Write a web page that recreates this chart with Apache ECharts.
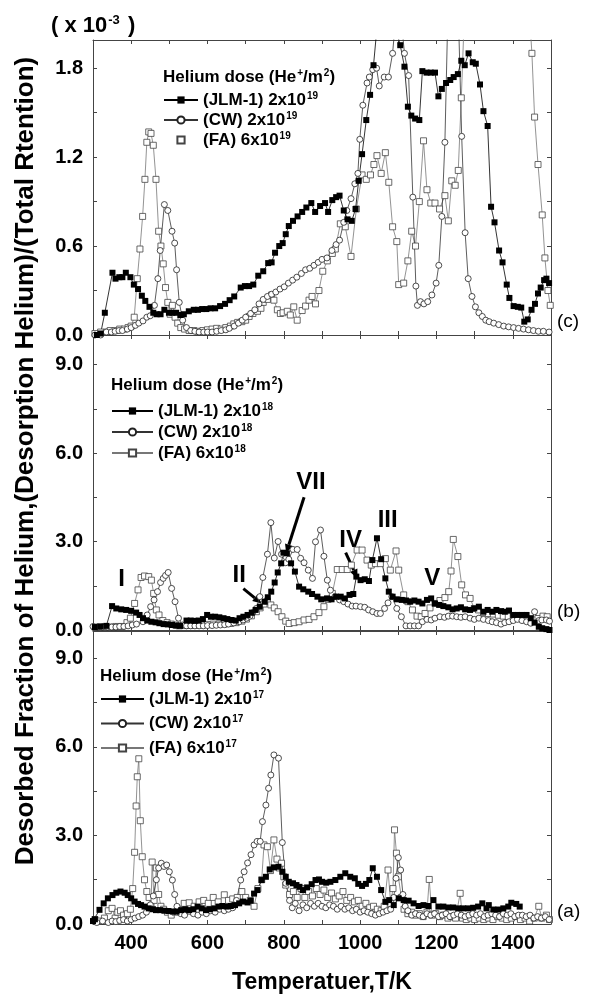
<!DOCTYPE html>
<html>
<head>
<meta charset="utf-8">
<script src="https://cdn.jsdelivr.net/npm/echarts@6/dist/echarts.min.js"></script>
<style>
  html, body { margin: 0; padding: 0; background: #fff; }
  #main { width: 592px; height: 996px; }
</style>
</head>
<body>
<div id="main"></div>
<script>
// desorbed fraction vs temperature, panel (c) in units of 1e-3
var jlmC = [[310,0.0],[320,0.01],[331,0.15],[351,0.42],[359,0.38],[369,0.39],[377,0.39],[386,0.42],[398,0.39],[407,0.34],[418,0.31],[428,0.265],[437,0.23],[448,0.19],[458,0.15],[467,0.14],[477,0.14],[487,0.17],[499,0.15],[508,0.15],[518,0.15],[529,0.135],[538,0.14],[551,0.16],[564,0.17],[575,0.17],[586,0.175],[597,0.175],[608,0.18],[620,0.18],[633,0.195],[646,0.21],[658,0.235],[670,0.26],[687,0.32],[698,0.33],[709,0.33],[720,0.34],[733,0.40],[746,0.43],[759,0.485],[768,0.49],[777,0.555],[788,0.60],[797,0.62],[805,0.68],[813,0.735],[824,0.77],[836,0.80],[848,0.83],[859,0.86],[872,0.89],[882,0.83],[895,0.87],[908,0.89],[916,0.83],[927,0.91],[937,0.93],[946,0.94],[957,0.84],[967,0.78],[978,0.77],[988,0.85],[996,1.04],[1005,1.22],[1016,1.45],[1026,1.62],[1035,1.82],[1045,2.1],[1060,2.3],[1075,2.3],[1090,2.1],[1105,1.955],[1116,1.81],[1125,1.54],[1134,1.48],[1144,1.46],[1155,1.45],[1163,1.78],[1174,1.77],[1185,1.77],[1196,1.77],[1205,1.61],[1214,1.66],[1225,1.70],[1236,1.72],[1245,1.74],[1256,1.76],[1265,1.85],[1274,1.82],[1284,1.90],[1295,1.84],[1303,1.83],[1314,1.69],[1323,1.51],[1334,1.41],[1343,0.865],[1352,0.76],[1364,0.57],[1373,0.49],[1384,0.34],[1391,0.25],[1402,0.195],[1413,0.19],[1422,0.185],[1430,0.09],[1439,0.105],[1449,0.17],[1458,0.21],[1466,0.28],[1473,0.32],[1482,0.37],[1488,0.38],[1495,0.35]];
var cwC = [[305,0.0],[320,0.0],[335,0.02],[348,0.02],[358,0.025],[368,0.03],[377,0.03],[390,0.04],[400,0.05],[411,0.065],[420,0.08],[431,0.095],[441,0.12],[450,0.13],[461,0.20],[470,0.38],[476,0.57],[487,0.88],[496,0.84],[507,0.70],[514,0.62],[519,0.44],[526,0.22],[535,0.10],[545,0.05],[556,0.03],[567,0.025],[578,0.02],[590,0.02],[600,0.02],[612,0.02],[624,0.025],[636,0.03],[648,0.035],[657,0.045],[670,0.06],[681,0.08],[691,0.10],[700,0.12],[713,0.145],[724,0.17],[735,0.21],[746,0.24],[757,0.26],[768,0.275],[779,0.29],[790,0.31],[801,0.325],[812,0.35],[823,0.37],[834,0.39],[846,0.415],[857,0.44],[868,0.45],[879,0.47],[890,0.49],[900,0.51],[913,0.52],[926,0.57],[937,0.61],[946,0.64],[957,0.76],[965,0.84],[976,0.92],[986,1.02],[994,1.09],[999,1.32],[1007,1.55],[1018,1.70],[1024,1.74],[1033,1.79],[1043,1.80],[1050,1.68],[1063,1.74],[1074,1.74],[1085,1.9],[1095,2.2],[1105,2.2],[1116,1.9],[1127,1.75],[1138,0.93],[1146,0.33],[1150,0.2],[1158,0.225],[1167,0.21],[1177,0.225],[1188,0.27],[1199,0.35],[1206,0.47],[1214,0.8],[1222,1.3],[1230,2.2],[1245,2.3],[1258,2.1],[1266,1.34],[1275,0.69],[1283,0.38],[1293,0.26],[1302,0.19],[1311,0.15],[1320,0.125],[1329,0.10],[1338,0.09],[1350,0.08],[1363,0.07],[1376,0.06],[1389,0.055],[1402,0.05],[1415,0.045],[1428,0.04],[1441,0.035],[1454,0.03],[1467,0.025],[1480,0.025],[1495,0.02]];
var faC = [[305,0.01],[320,0.02],[335,0.02],[345,0.03],[358,0.03],[370,0.04],[382,0.04],[392,0.05],[400,0.06],[408,0.12],[416,0.38],[423,0.58],[430,0.80],[436,1.05],[441,1.30],[446,1.37],[452,1.36],[458,1.28],[465,1.05],[472,0.70],[478,0.60],[484,0.48],[490,0.32],[496,0.22],[502,0.14],[508,0.20],[515,0.12],[522,0.08],[530,0.05],[540,0.04],[552,0.03],[564,0.03],[576,0.025],[588,0.03],[600,0.035],[612,0.04],[624,0.045],[636,0.04],[648,0.05],[660,0.06],[669,0.075],[679,0.085],[690,0.09],[700,0.10],[709,0.125],[719,0.145],[731,0.16],[740,0.18],[746,0.22],[757,0.24],[768,0.27],[774,0.235],[783,0.17],[791,0.145],[798,0.15],[809,0.16],[817,0.135],[826,0.19],[835,0.10],[848,0.165],[857,0.195],[866,0.235],[874,0.26],[883,0.21],[892,0.30],[902,0.43],[914,0.50],[927,0.55],[935,0.58],[948,0.75],[961,0.73],[976,0.53],[990,0.85],[1005,1.08],[1016,1.05],[1027,1.08],[1036,1.15],[1044,1.21],[1055,1.09],[1066,1.23],[1075,1.03],[1085,0.73],[1096,0.63],[1101,0.34],[1114,0.35],[1125,0.5],[1135,0.7],[1145,0.6],[1155,0.9],[1166,1.31],[1175,0.98],[1185,0.89],[1196,0.89],[1208,0.85],[1222,0.94],[1231,0.77],[1240,1.04],[1249,1.01],[1257,1.11],[1265,1.6],[1275,2.3],[1300,2.5],[1350,2.5],[1400,2.5],[1440,2.3],[1450,1.9],[1457,1.47],[1466,1.15],[1477,0.81],[1484,0.52],[1492,0.3],[1498,0.2]];

// panel (b)
var jlmB = [[305,0.1],[320,0.12],[335,0.14],[350,0.81],[361,0.73],[374,0.70],[387,0.68],[400,0.65],[413,0.59],[422,0.51],[431,0.40],[442,0.32],[453,0.28],[464,0.26],[474,0.23],[485,0.20],[496,0.19],[507,0.17],[518,0.15],[528,0.14],[545,0.32],[556,0.32],[566,0.31],[577,0.32],[588,0.37],[599,0.51],[609,0.45],[620,0.45],[631,0.43],[642,0.40],[652,0.37],[663,0.34],[674,0.32],[684,0.40],[694,0.45],[705,0.51],[716,0.59],[726,0.68],[737,0.79],[750,0.96],[758,1.11],[767,1.30],[776,1.61],[784,1.95],[793,2.26],[799,2.62],[808,2.60],[819,2.26],[829,1.98],[840,1.47],[851,1.38],[864,1.30],[874,1.22],[888,1.13],[898,1.04],[913,1.07],[925,1.04],[937,1.13],[949,1.13],[960,1.07],[972,1.19],[982,1.22],[990,1.81],[1001,1.69],[1012,1.72],[1023,1.66],[1032,2.37],[1044,3.11],[1055,2.40],[1066,1.75],[1075,1.30],[1085,1.13],[1096,1.04],[1109,1.02],[1120,1.0],[1131,0.96],[1142,1.0],[1153,0.96],[1163,0.90],[1175,1.02],[1186,1.07],[1196,0.90],[1207,0.85],[1218,0.81],[1231,0.77],[1242,0.70],[1253,0.73],[1264,0.77],[1275,0.70],[1288,0.68],[1299,0.73],[1311,0.79],[1323,0.62],[1334,0.68],[1346,0.62],[1357,0.68],[1369,0.64],[1379,0.62],[1390,0.66],[1401,0.51],[1412,0.51],[1424,0.51],[1436,0.51],[1447,0.40],[1457,0.25],[1468,0.11],[1477,0.06],[1488,0.03],[1496,0.0]];
var cwB = [[300,0.12],[312,0.1],[325,0.1],[338,0.1],[349,0.1],[360,0.1],[370,0.12],[381,0.12],[392,0.14],[403,0.17],[414,0.20],[431,0.28],[442,0.51],[451,0.79],[460,1.02],[469,1.30],[477,1.61],[484,1.75],[490,1.85],[497,1.95],[506,1.41],[515,0.96],[524,0.40],[534,0.17],[545,0.14],[556,0.14],[567,0.14],[578,0.14],[589,0.14],[600,0.15],[612,0.15],[623,0.16],[634,0.17],[645,0.18],[655,0.20],[669,0.24],[683,0.28],[693,0.34],[702,0.40],[711,0.47],[719,0.59],[728,0.73],[737,1.13],[745,1.78],[757,2.57],[766,3.64],[775,2.44],[785,3.0],[794,2.57],[805,2.28],[813,2.40],[824,2.73],[835,2.73],[844,2.43],[853,2.28],[864,2.03],[875,1.75],[883,2.99],[896,3.39],[905,2.5],[914,1.69],[922,1.35],[934,1.13],[946,1.02],[957,0.96],[968,0.88],[979,0.81],[989,0.81],[1001,0.79],[1012,0.77],[1022,0.68],[1033,0.62],[1044,0.56],[1053,0.56],[1064,0.73],[1073,0.92],[1083,1.13],[1096,0.73],[1108,0.45],[1120,0.14],[1131,0.14],[1142,0.14],[1153,0.14],[1163,0.28],[1175,0.36],[1186,0.34],[1196,0.40],[1209,0.45],[1221,0.43],[1231,0.47],[1242,0.47],[1253,0.45],[1264,0.43],[1275,0.45],[1288,0.40],[1299,0.36],[1311,0.40],[1323,0.36],[1336,0.32],[1346,0.28],[1357,0.25],[1369,0.20],[1379,0.25],[1390,0.28],[1401,0.32],[1412,0.36],[1424,0.32],[1436,0.28],[1447,0.23],[1457,0.62],[1468,0.32],[1476,0.34],[1488,0.34],[1496,0.3]];
var faB = [[305,0.1],[318,0.1],[330,0.1],[345,0.1],[360,0.12],[375,0.12],[389,0.25],[398,0.40],[409,0.90],[418,1.36],[426,1.78],[435,1.83],[446,1.81],[453,1.69],[459,1.24],[466,0.68],[473,0.51],[483,0.32],[494,0.25],[505,0.20],[516,0.17],[526,0.14],[540,0.15],[555,0.16],[570,0.17],[585,0.18],[600,0.19],[615,0.2],[630,0.2],[645,0.21],[660,0.22],[675,0.25],[690,0.30],[702,0.37],[715,0.48],[728,0.62],[738,0.75],[748,0.88],[757,0.98],[766,0.85],[775,0.75],[785,0.62],[795,0.45],[805,0.30],[814,0.22],[827,0.25],[840,0.28],[853,0.34],[866,0.36],[879,0.45],[892,0.59],[905,0.79],[916,1.04],[927,1.24],[940,2.05],[953,2.05],[966,2.05],[977,2.2],[992,2.71],[1005,2.71],[1018,2.37],[1029,2.2],[1040,2.25],[1053,2.25],[1066,2.42],[1079,2.03],[1094,2.68],[1101,2.03],[1114,1.19],[1125,0.96],[1137,0.68],[1149,0.47],[1160,0.45],[1170,0.56],[1183,0.75],[1196,0.9],[1209,1.0],[1222,1.1],[1232,1.3],[1238,2.0],[1244,3.07],[1256,2.49],[1266,1.53],[1276,1.19],[1288,1.07],[1299,0.73],[1310,0.68],[1323,0.59],[1336,0.56],[1349,0.54],[1362,0.50],[1375,0.47],[1388,0.45],[1401,0.42],[1414,0.42],[1427,0.39],[1440,0.36],[1453,0.34],[1466,0.39],[1479,0.47],[1490,0.45]];

// panel (a)
var jlmA = [[300,0.1],[305,0.16],[317,0.48],[328,0.70],[339,0.87],[351,0.98],[361,1.06],[372,1.10],[383,1.06],[391,0.98],[400,0.87],[409,0.76],[418,0.68],[426,0.64],[435,0.59],[446,0.53],[457,0.50],[465,0.47],[476,0.47],[487,0.45],[498,0.44],[509,0.42],[519,0.42],[531,0.47],[542,0.50],[552,0.47],[563,0.50],[574,0.59],[585,0.53],[596,0.47],[606,0.50],[618,0.53],[629,0.59],[639,0.61],[650,0.59],[661,0.61],[672,0.64],[683,0.70],[693,0.76],[705,0.73],[713,0.79],[722,1.03],[731,1.15],[742,1.49],[753,1.60],[763,1.85],[774,1.92],[786,1.94],[796,1.77],[805,1.60],[813,1.43],[824,1.38],[833,1.32],[841,1.26],[850,1.15],[861,1.24],[873,1.35],[883,1.49],[892,1.51],[900,1.43],[911,1.40],[922,1.43],[935,1.49],[948,1.60],[961,1.72],[974,1.60],[986,1.55],[995,1.36],[1005,1.29],[1015,1.36],[1024,1.49],[1033,1.89],[1044,1.60],[1055,1.15],[1066,0.75],[1076,0.81],[1088,0.64],[1101,0.87],[1114,0.81],[1127,0.79],[1140,0.70],[1153,0.61],[1166,0.64],[1179,0.61],[1192,0.81],[1205,0.59],[1218,0.59],[1231,0.56],[1244,0.56],[1257,0.53],[1270,0.53],[1283,0.53],[1296,0.55],[1309,0.59],[1320,0.70],[1331,0.53],[1337,0.64],[1349,0.49],[1362,0.49],[1375,0.53],[1388,0.59],[1396,0.72],[1409,0.68],[1418,0.59]];
var cwA = [[310,0.05],[325,0.1],[340,0.05],[350,0.1],[360,0.08],[370,0.12],[380,0.15],[390,0.10],[400,0.15],[410,0.2],[420,0.25],[430,0.3],[440,0.4],[450,0.65],[458,0.95],[466,1.5],[472,1.9],[479,2.06],[486,1.95],[493,2.0],[500,1.77],[508,1.49],[514,1.0],[520,0.6],[530,0.35],[540,0.3],[552,0.43],[563,0.35],[575,0.3],[586,0.4],[597,0.35],[608,0.45],[620,0.4],[632,0.5],[644,0.45],[655,0.5],[666,0.55],[676,0.8],[687,1.49],[696,1.77],[705,2.07],[714,2.35],[722,2.68],[730,2.8],[738,2.8],[744,3.47],[753,4.03],[760,4.6],[766,5.05],[774,5.73],[786,5.62],[796,2.76],[805,1.38],[815,0.8],[822,0.55],[830,0.7],[840,0.45],[850,0.65],[860,0.55],[870,0.7],[880,0.6],[890,0.7],[900,0.6],[910,0.55],[920,0.65],[930,0.6],[940,0.5],[950,0.6],[960,0.5],[970,0.55],[980,0.45],[990,0.5],[1000,0.4],[1010,0.45],[1020,0.4],[1030,0.35],[1040,0.3],[1050,0.35],[1060,0.4],[1070,0.45],[1080,0.5],[1088,0.9],[1094,1.55],[1100,2.25],[1106,1.83],[1112,1.0],[1118,0.6],[1125,0.45],[1135,0.3],[1145,0.35],[1155,0.3],[1165,0.25],[1175,0.35],[1185,0.3],[1195,0.35],[1205,0.25],[1215,0.3],[1225,0.35],[1235,0.25],[1245,0.3],[1255,0.35],[1265,0.3],[1275,0.25],[1285,0.3],[1295,0.35],[1305,0.3],[1315,0.35],[1325,0.25],[1335,0.3],[1345,0.35],[1355,0.3],[1365,0.25],[1375,0.35],[1385,0.3],[1395,0.35],[1405,0.25],[1415,0.3],[1425,0.3],[1435,0.25],[1445,0.3],[1455,0.2],[1465,0.25],[1475,0.2],[1485,0.25],[1495,0.15]];
var faA = [[305,0.15],[318,0.1],[330,0.2],[340,0.45],[350,0.53],[358,0.2],[365,0.4],[372,0.45],[380,0.3],[390,0.35],[398,0.5],[404,1.2],[409,2.43],[413,4.0],[416,4.99],[420,5.6],[424,3.5],[429,2.28],[435,1.5],[441,1.1],[447,0.9],[452,0.6],[455,2.1],[460,0.8],[466,1.9],[472,1.0],[478,0.6],[485,0.5],[495,0.4],[505,0.3],[515,0.4],[525,0.5],[539,0.7],[552,0.72],[565,0.6],[578,0.75],[590,0.8],[602,0.7],[615,0.9],[628,0.75],[644,0.99],[655,0.8],[666,0.85],[678,0.9],[690,1.1],[700,0.9],[712,0.8],[722,0.6],[732,1.2],[742,1.5],[748,2.68],[757,2.62],[765,1.81],[774,2.85],[782,2.2],[788,1.9],[794,2.06],[800,1.6],[805,1.32],[815,1.0],[825,1.1],[835,0.9],[845,1.2],[855,0.9],[865,1.1],[875,0.95],[885,1.2],[895,1.0],[905,1.15],[915,0.9],[925,1.05],[935,0.85],[945,0.95],[955,1.1],[965,0.8],[975,0.9],[985,0.75],[995,0.8],[1005,0.6],[1015,0.7],[1025,0.55],[1035,0.6],[1045,0.5],[1055,0.45],[1063,0.6],[1073,1.83],[1080,0.7],[1086,1.2],[1090,3.19],[1095,2.4],[1100,1.6],[1108,0.9],[1115,0.5],[1125,0.35],[1135,0.4],[1145,0.3],[1155,0.35],[1165,0.25],[1175,0.4],[1181,1.51],[1188,0.3],[1198,0.35],[1208,0.25],[1218,0.3],[1230,0.2],[1240,0.25],[1250,0.2],[1262,1.04],[1268,0.2],[1278,0.15],[1290,0.2],[1300,0.15],[1312,0.2],[1324,0.15],[1336,0.2],[1348,0.15],[1360,0.25],[1372,0.2],[1384,0.15],[1396,0.2],[1408,0.25],[1420,0.15],[1432,0.2],[1444,0.1],[1456,0.2],[1468,0.6],[1476,0.2],[1488,0.3],[1496,0.15]];

// series names (superscript after ^)
var namesC = ['(JLM-1) 2x10^19', '(CW) 2x10^19', '(FA) 6x10^19'];
var namesB = ['(JLM-1) 2x10^18', '(CW) 2x10^18', '(FA) 6x10^18'];
var namesA = ['(JLM-1) 2x10^17', '(CW) 2x10^17', '(FA) 6x10^17'];

// panel labels and roman-numeral peaks of panel (b): [text, T, value]
var panelLabels = ['(c)', '(b)', '(a)'];
var peakLabels = [['I', 375, 1.7], ['II', 683, 1.85], ['VII', 871, 5.0], ['IV', 975, 3.05], ['III', 1072, 3.73], ['V', 1189, 1.76]];
// arrows: [fromT, fromV, toT, toV]
var peakArrows = [[694, 1.4, 742, 0.9], [853, 4.5, 806, 2.6], [962, 2.62, 993, 1.75]];

var FONT = '"Liberation Sans", Arial, sans-serif';
var chart = echarts.init(document.getElementById('main'));

var styles = {
    jlm: { symbol: 'rect', symbolSize: 6, itemStyle: { color: '#000' }, lineStyle: { color: '#000', width: 0.8 } },
    cw: { symbol: 'circle', symbolSize: 6, itemStyle: { color: '#fff', borderColor: '#222', borderWidth: 0.8 }, lineStyle: { color: '#333', width: 0.8 } },
    fa: { symbol: 'rect', symbolSize: 6, itemStyle: { color: '#fff', borderColor: '#444', borderWidth: 0.8 }, lineStyle: { color: '#777', width: 0.8 } }
};

function mkSeries(name, data, kind, gi) {
    var s = styles[kind];
    return {
        type: 'line', name: name, data: data,
        xAxisIndex: gi, yAxisIndex: gi,
        symbol: s.symbol, symbolSize: s.symbolSize, showAllSymbol: true,
        itemStyle: s.itemStyle, lineStyle: s.lineStyle,
        clip: true, silent: true
    };
}

var grids = [
    { left: 93, right: 41, top: 40, height: 295 },
    { left: 93, right: 41, top: 335, height: 295 },
    { left: 93, right: 41, top: 631, height: 293 }
];
var yMax = [1.99, 10, 9.93];
var yStep = [0.3, 1.5, 1.5];
var yLabelEvery = [6, 30, 30];

var axisLineStyle = { color: '#444', width: 1 };
var xAxes = [], yAxes = [];
[0, 1, 2].forEach(function (gi) {
    xAxes.push({
        type: 'value', gridIndex: gi, position: 'bottom', min: 300, max: 1500, interval: 100,
        axisLine: { show: true, onZero: false, lineStyle: axisLineStyle },
        axisTick: { inside: true, length: 4, lineStyle: axisLineStyle },
        splitLine: { show: false },
        axisLabel: {
            show: gi === 2, margin: 9, color: '#000', fontFamily: FONT, fontWeight: 'bold', fontSize: 20,
            formatter: function (v) { return v % 200 === 0 ? String(v) : ''; }
        }
    });
});
[0, 1, 2].forEach(function (gi) {
    xAxes.push({
        type: 'value', gridIndex: gi, position: 'top', min: 300, max: 1500, interval: 100,
        axisLine: { show: true, onZero: false, lineStyle: axisLineStyle },
        axisTick: { inside: true, length: 4, lineStyle: axisLineStyle },
        splitLine: { show: false }, axisLabel: { show: false }
    });
});
[0, 1, 2].forEach(function (gi) {
    yAxes.push({
        type: 'value', gridIndex: gi, position: 'left', min: 0, max: yMax[gi], interval: yStep[gi],
        axisLine: { show: true, onZero: false, lineStyle: axisLineStyle },
        axisTick: { inside: true, length: 4, lineStyle: axisLineStyle },
        splitLine: { show: false },
        axisLabel: {
            margin: 10, color: '#000', fontFamily: FONT, fontWeight: 'bold', fontSize: 20,
            formatter: function (v) {
                var k = Math.round(v * 10);
                return k % yLabelEvery[gi] === 0 ? v.toFixed(1) : '';
            }
        }
    });
});
[0, 1, 2].forEach(function (gi) {
    yAxes.push({
        type: 'value', gridIndex: gi, position: 'right', min: 0, max: yMax[gi], interval: yStep[gi],
        axisLine: { show: true, onZero: false, lineStyle: axisLineStyle },
        axisTick: { inside: true, length: 4, lineStyle: axisLineStyle },
        splitLine: { show: false }, axisLabel: { show: false }
    });
});

var series = [
    mkSeries(namesC[2], faC, 'fa', 0), mkSeries(namesC[1], cwC, 'cw', 0), mkSeries(namesC[0], jlmC, 'jlm', 0),
    mkSeries(namesB[2], faB, 'fa', 1), mkSeries(namesB[1], cwB, 'cw', 1), mkSeries(namesB[0], jlmB, 'jlm', 1),
    mkSeries(namesA[2], faA, 'fa', 2), mkSeries(namesA[1], cwA, 'cw', 2), mkSeries(namesA[0], jlmA, 'jlm', 2)
];

var richText = {
    b: { fontFamily: FONT, fontWeight: 'bold', fontSize: 17, lineHeight: 18, color: '#000' },
    s: { fontFamily: FONT, fontWeight: 'bold', fontSize: 10, lineHeight: 18, verticalAlign: 'top', color: '#000', padding: [0, 0, 0, 1] }
};
function supFmt(name) {
    var p = name.split('^');
    return '{b|' + p[0] + '}{s|' + p[1] + '}';
}
function mkLegend(names, left, top, w, gap, faNoLine) {
    return {
        orient: 'vertical', left: left, top: top, itemWidth: w, itemHeight: 9, itemGap: gap,
        selectedMode: false, padding: 0,
        textStyle: { rich: richText },
        formatter: supFmt,
        data: names.map(function (n, i) {
            var d = { name: n };
            if (faNoLine && i === 2) d.lineStyle = { opacity: 0 };
            return d;
        })
    };
}

chart.setOption({
    animation: false,
    backgroundColor: '#fff',
    grid: grids,
    xAxis: xAxes,
    yAxis: yAxes,
    legend: [
        mkLegend(namesC, 163, 91, 34, 2.5, true),
        mkLegend(namesB, 111, 402, 41, 3.5, false),
        mkLegend(namesA, 100, 690, 43, 7, false)
    ],
    series: series
});

// texts, titles and annotations
var g = [];
function doseTitle(x, y) {
    g.push({
        type: 'text', left: x, top: y - 10, silent: true,
        style: { text: '{b|Helium dose (He}{s|+}{b|/m}{s|2}{b|)}', rich: richText }
    });
}
doseTitle(163, 78);
doseTitle(111, 386);
doseTitle(100, 677);

g.push({
    type: 'text', x: 51, y: 26, silent: true,
    style: {
        text: '{a|( x 10}{s|-3}{a| )}', verticalAlign: 'middle',
        rich: {
            a: { fontFamily: FONT, fontWeight: 'bold', fontSize: 22, lineHeight: 24, color: '#000' },
            s: { fontFamily: FONT, fontWeight: 'bold', fontSize: 13, lineHeight: 24, verticalAlign: 'top', color: '#000', padding: [0, 2, 0, 1] }
        }
    }
});
g.push({
    type: 'text', x: 26, y: 461, rotation: Math.PI / 2, silent: true,
    style: {
        text: 'Desorbed Fraction of Helium,(Desorption Helium)/(Total Rtention)',
        fontFamily: FONT, fontWeight: 'bold', fontSize: 26, fill: '#000', align: 'center', verticalAlign: 'middle'
    }
});
g.push({
    type: 'text', x: 322, y: 983, silent: true,
    style: { text: 'Temperatuer,T/K', fontFamily: FONT, fontWeight: 'bold', fontSize: 23, fill: '#000', align: 'center', verticalAlign: 'middle' }
});
var panelY = [322, 612, 912];
panelLabels.forEach(function (t, i) {
    g.push({
        type: 'text', x: 557, y: panelY[i], silent: true,
        style: { text: t, fontFamily: FONT, fontSize: 19, fill: '#000', verticalAlign: 'middle' }
    });
});
peakLabels.forEach(function (p) {
    var pt = chart.convertToPixel({ gridIndex: 1 }, [p[1], p[2]]);
    g.push({
        type: 'text', x: pt[0], y: pt[1], silent: true,
        style: { text: p[0], fontFamily: FONT, fontWeight: 'bold', fontSize: 24, fill: '#000', align: 'center', verticalAlign: 'middle' }
    });
});
peakArrows.forEach(function (a) {
    var p0 = chart.convertToPixel({ gridIndex: 1 }, [a[0], a[1]]);
    var p1 = chart.convertToPixel({ gridIndex: 1 }, [a[2], a[3]]);
    var dx = p1[0] - p0[0], dy = p1[1] - p0[1];
    var len = Math.sqrt(dx * dx + dy * dy), ux = dx / len, uy = dy / len;
    var hl = 9, hw = 4;
    var bx = p1[0] - ux * hl, by = p1[1] - uy * hl;
    g.push({
        type: 'line', silent: true,
        shape: { x1: p0[0], y1: p0[1], x2: bx, y2: by },
        style: { stroke: '#000', lineWidth: 3 }
    });
    g.push({
        type: 'polygon', silent: true,
        shape: { points: [[p1[0], p1[1]], [bx - uy * hw, by + ux * hw], [bx + uy * hw, by - ux * hw]] },
        style: { fill: '#000' }
    });
});
chart.setOption({ graphic: g });
</script>
</body>
</html>
